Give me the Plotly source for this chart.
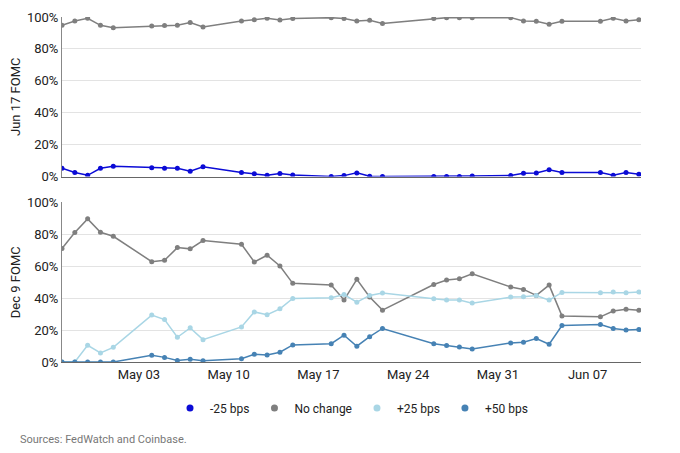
import plotly.graph_objects as go
from plotly.subplots import make_subplots

dates = ['2026-04-27', '2026-04-28', '2026-04-29', '2026-04-30', '2026-05-01',
         '2026-05-04', '2026-05-05', '2026-05-06', '2026-05-07', '2026-05-08',
         '2026-05-11', '2026-05-12', '2026-05-13', '2026-05-14', '2026-05-15',
         '2026-05-18', '2026-05-19', '2026-05-20', '2026-05-21', '2026-05-22',
         '2026-05-26', '2026-05-27', '2026-05-28', '2026-05-29',
         '2026-06-01', '2026-06-02', '2026-06-03', '2026-06-04', '2026-06-05',
         '2026-06-08', '2026-06-09', '2026-06-10', '2026-06-11']

# Jun 17 FOMC
jun_cut25 = [5.2, 2.5, 0.8, 5.2, 6.5, 5.6, 5.2, 5.2, 3.3, 6.2,
             2.5, 1.7, 0.8, 1.9, 1.0, 0.0, 0.6, 2.3, 0.2, 0.0,
             0.0, 0.0, 0.0, 0.4, 0.6, 2.1, 2.3, 4.2, 2.5,
             2.5, 0.8, 2.5, 1.5]
jun_hold = [94.8, 97.5, 99.2, 94.8, 93.3, 94.4, 94.6, 94.8, 96.5, 93.8,
            97.5, 98.3, 99.2, 98.1, 99.0, 99.6, 99.0, 97.5, 97.9, 96.0,
            99.0, 99.6, 99.6, 99.6, 99.6, 97.5, 97.3, 95.4, 97.3,
            97.3, 99.2, 97.5, 98.3]

# Dec 9 FOMC
dec_hold = [71.1, 81.1, 89.7, 81.3, 78.8, 62.9, 63.7, 71.7, 70.9, 76.1,
            73.8, 62.7, 66.9, 60.2, 49.3, 48.2, 38.8, 51.8, 40.7, 32.5,
            48.6, 51.4, 52.2, 55.3, 47.0, 45.5, 41.7, 48.2, 28.9,
            28.3, 31.9, 33.1, 32.5]
dec_hike25 = [0.0, 0.0, 10.5, 5.7, 9.2, 29.4, 26.6, 15.5, 21.4, 14.0,
              22.0, 31.4, 29.6, 33.3, 39.8, 40.3, 42.3, 37.5, 41.7, 43.2,
              39.6, 38.8, 38.8, 36.9, 40.7, 40.9, 41.7, 38.8, 43.6,
              43.4, 43.8, 43.4, 43.8]
dec_hike50 = [0.0, 0.0, 0.0, 0.0, 0.0, 4.2, 2.9, 1.0, 1.7, 0.8,
              2.1, 4.8, 4.4, 6.1, 10.7, 11.5, 16.8, 9.9, 15.9, 21.0,
              11.5, 10.3, 9.4, 8.2, 11.9, 12.4, 14.7, 11.1, 22.9,
              23.5, 21.0, 20.1, 20.3]

tick_dates = ['2026-05-03', '2026-05-10', '2026-05-17', '2026-05-24', '2026-05-31', '2026-06-07']
tick_text = ['May 03', 'May 10', 'May 17', 'May 24', 'May 31', 'Jun 07']
y_ticks = [0, 20, 40, 60, 80, 100]
y_labels = ['0%', '20%', '40%', '60%', '80%', '100%']

names = ['-25 bps', 'No change', '+25 bps', '+50 bps']
colors = ['#0b0bd6', '#7f7f7f', '#a9d6e5', '#4682b4']

font = 'Roboto, Liberation Sans, sans-serif'

fig = make_subplots(rows=2, cols=1, shared_xaxes=True, vertical_spacing=0.075)

def line(y, c, row):
    fig.add_trace(go.Scatter(x=dates, y=y, mode='lines+markers', showlegend=False,
                             line=dict(color=c, width=1.5), marker=dict(color=c, size=5)),
                  row=row, col=1)

line(jun_hold, colors[1], 1)
line(jun_cut25, colors[0], 1)
line(dec_hold, colors[1], 2)
line(dec_hike25, colors[2], 2)
line(dec_hike50, colors[3], 2)

# legend entries: dots only
for n, c in zip(names, colors):
    fig.add_trace(go.Scatter(x=[None], y=[None], mode='markers', name=n,
                             marker=dict(color=c, size=7)), row=1, col=1)

fig.update_yaxes(range=[0, 100], tickvals=y_ticks, ticktext=y_labels,
                 showgrid=True, gridcolor='#e3e3e3', gridwidth=1, zeroline=False,
                 showline=True, linecolor='#888', linewidth=1, automargin=False,
                 tickfont=dict(size=13, color='#222'), ticks='', title_standoff=12,
                 fixedrange=True)
fig.update_yaxes(title=dict(text='Jun 17 FOMC', font=dict(size=13, color='#222')), row=1, col=1)
fig.update_yaxes(title=dict(text='Dec 9 FOMC', font=dict(size=13, color='#222')), row=2, col=1)

fig.update_xaxes(range=['2026-04-27', '2026-06-11 04:00'], tickvals=tick_dates, ticktext=tick_text,
                 showgrid=False, showline=True, linecolor='#666', linewidth=1.2,
                 tickfont=dict(size=13, color='#222'), ticks='')
fig.update_xaxes(showticklabels=False, row=1, col=1)

fig.add_annotation(text='Sources: FedWatch and Coinbase.', xref='paper', yref='paper',
                   x=-0.076, y=-0.226, xanchor='left', yanchor='middle', showarrow=False,
                   font=dict(size=11, color='#777'))

# page adds an 8px body margin, so the figure is 8px smaller than the window
fig.update_layout(width=672, height=445, margin=dict(l=54, r=39, t=9, b=91),
                  plot_bgcolor='white', paper_bgcolor='white',
                  font=dict(family=font, color='#222'),
                  legend=dict(orientation='h', x=0.5, xanchor='center', y=-0.133, yanchor='middle',
                              font=dict(size=12), itemwidth=30, traceorder='normal'))

fig.write_html('out.html')
